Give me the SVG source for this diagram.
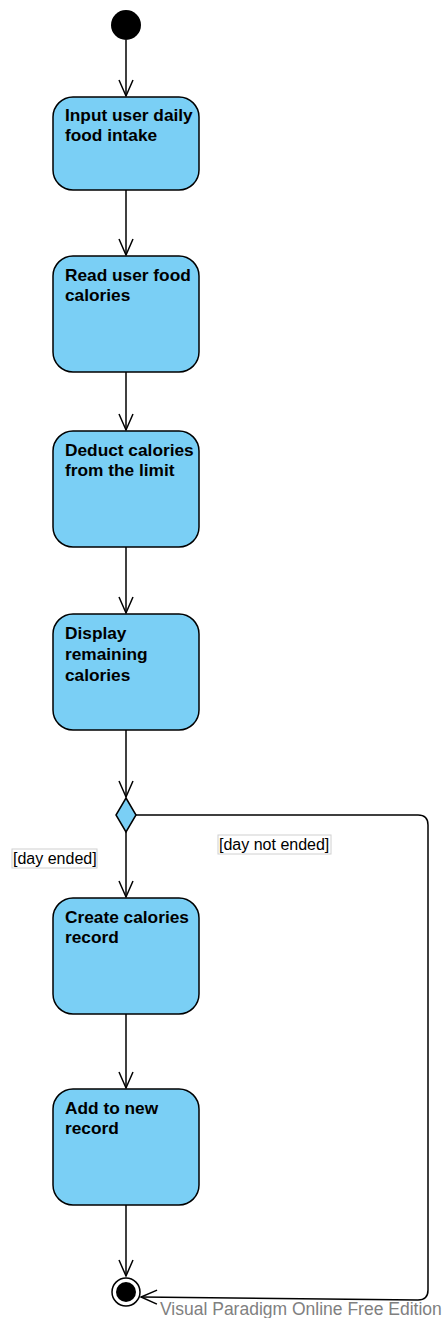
<svg xmlns="http://www.w3.org/2000/svg" width="442" height="1318" viewBox="0 0 442 1318">
<defs>
<style>
.node{fill:#7acff5;stroke:#000;stroke-width:1.5}
.t{font-family:"Liberation Sans",Arial,sans-serif;font-size:17.3px;font-weight:bold;fill:#000}
.c{fill:none;stroke:#000;stroke-width:1.5}
.lbl{font-family:"Liberation Sans",Arial,sans-serif;font-size:16px;fill:#000}
.lb{fill:#fff;stroke:#d0d0d0;stroke-width:1}
</style>
<marker id="arr" viewBox="0 0 20 20" refX="17" refY="10" markerWidth="20" markerHeight="20" markerUnits="userSpaceOnUse" orient="auto">
<path d="M1,3 L17,10 L1,17" fill="none" stroke="#000" stroke-width="1.5"/>
</marker>
</defs>
<rect width="442" height="1318" fill="#fff"/>
<g id="connectors">
<line class="c" x1="126" y1="40" x2="126" y2="96" marker-end="url(#arr)"/>
<line class="c" x1="126" y1="190" x2="126" y2="255" marker-end="url(#arr)"/>
<line class="c" x1="126" y1="372" x2="126" y2="430" marker-end="url(#arr)"/>
<line class="c" x1="126" y1="547" x2="126" y2="613" marker-end="url(#arr)"/>
<line class="c" x1="126" y1="730" x2="126" y2="797" marker-end="url(#arr)"/>
<line class="c" x1="126" y1="832" x2="126" y2="897" marker-end="url(#arr)"/>
<line class="c" x1="126" y1="1014" x2="126" y2="1088" marker-end="url(#arr)"/>
<line class="c" x1="126" y1="1205" x2="126" y2="1276" marker-end="url(#arr)"/>
<path class="c" d="M136,815 L418,815 Q428,815 428,825 L428,1290 Q428,1300 418,1300 L141,1297" marker-end="url(#arr)"/>
<rect class="lb" x="12" y="849" width="85" height="19"/>
<text class="lbl" x="13" y="864">[day ended]</text>
<rect class="lb" x="218" y="835" width="113" height="19"/>
<text class="lbl" x="219" y="850">[day not ended]</text>
</g>
<g id="start"><circle cx="126" cy="25" r="15" fill="#000"/></g>
<g id="n1"><rect class="node" x="53" y="97" width="146" height="93" rx="20"/>
<text class="t" x="65" y="121">Input user daily</text><text class="t" x="65" y="141">food intake</text></g>
<g id="n2"><rect class="node" x="53" y="256" width="146" height="116" rx="20"/>
<text class="t" x="65" y="281">Read user food</text><text class="t" x="65" y="301">calories</text></g>
<g id="n3"><rect class="node" x="53" y="431" width="146" height="116" rx="20"/>
<text class="t" x="65" y="456">Deduct calories</text><text class="t" x="65" y="476">from the limit</text></g>
<g id="n4"><rect class="node" x="53" y="614" width="146" height="116" rx="20"/>
<text class="t" x="65" y="639">Display</text><text class="t" x="65" y="660">remaining</text><text class="t" x="65" y="681">calories</text></g>
<g id="decision"><path class="node" d="M126,798 L136,815 L126,832 L116,815 Z"/></g>
<g id="n5"><rect class="node" x="53" y="898" width="146" height="116" rx="20"/>
<text class="t" x="65" y="923">Create calories</text><text class="t" x="65" y="943">record</text></g>
<g id="n6"><rect class="node" x="53" y="1089" width="146" height="116" rx="20"/>
<text class="t" x="65" y="1114">Add to new</text><text class="t" x="65" y="1134">record</text></g>
<g id="end"><circle cx="126" cy="1292" r="14" fill="#fff" stroke="#000" stroke-width="1.5"/><circle cx="126" cy="1292" r="10" fill="#000"/></g>
<text x="160" y="1315" font-family="Liberation Sans,Arial,sans-serif" font-size="17.5" fill="#808080">Visual Paradigm Online Free Edition</text>
</svg>
